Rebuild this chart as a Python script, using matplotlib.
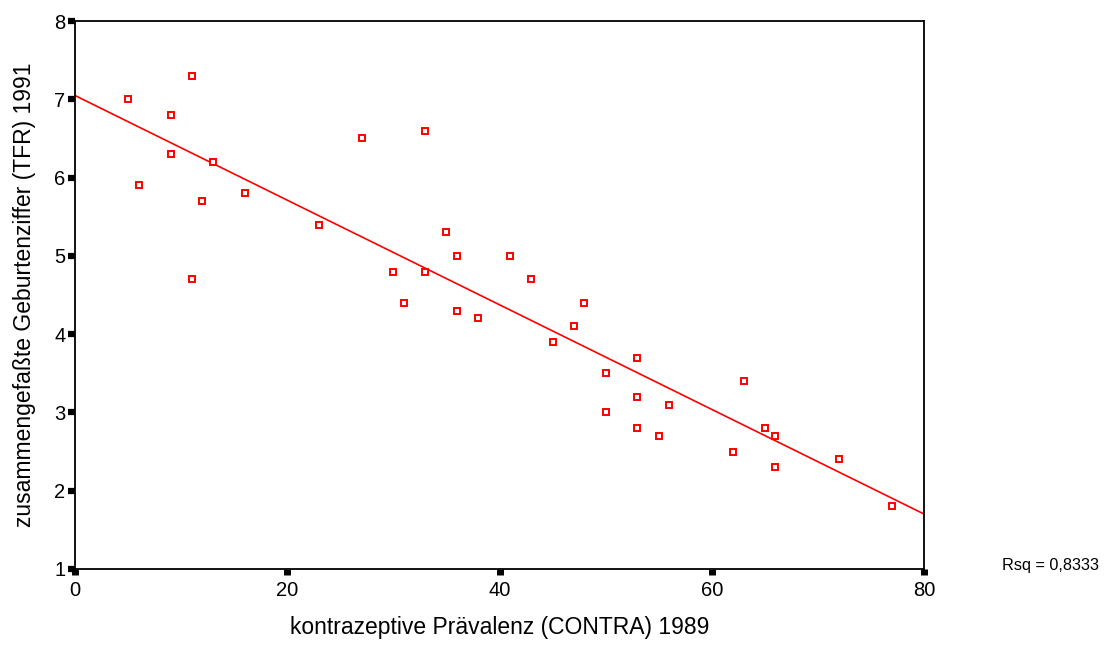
import numpy as np
import matplotlib
matplotlib.use("Agg")
import matplotlib.pyplot as plt

plt.rcParams['font.family'] = ['Liberation Sans', 'DejaVu Sans']

# kontrazeptive Prävalenz 1989 (x) und TFR 1991 (y)
contra = [5, 6, 9, 9, 11, 11, 12, 13, 16, 23, 27, 30, 31, 33, 33, 35, 36, 36, 38,
          41, 43, 45, 47, 48, 50, 50, 53, 53, 53, 55, 56, 62, 63, 65, 66, 66, 72, 77]
tfr = [7.0, 5.9, 6.8, 6.3, 7.3, 4.7, 5.7, 6.2, 5.8, 5.4, 6.5, 4.8, 4.4, 6.6, 4.8, 5.3, 5.0, 4.3, 4.2,
       5.0, 4.7, 3.9, 4.1, 4.4, 3.5, 3.0, 3.7, 3.2, 2.8, 2.7, 3.1, 2.5, 3.4, 2.8, 2.7, 2.3, 2.4, 1.8]

x_ticks = [0, 20, 40, 60, 80]
y_ticks = [1, 2, 3, 4, 5, 6, 7, 8]

fig = plt.figure(figsize=(11.11, 6.58), dpi=100)
ax = fig.add_axes([0.0675, 0.1353, 0.7642, 0.8327])

# lineare Regression
slope, intercept = np.polyfit(contra, tfr, 1)
xs = np.array([0, 80])
ax.plot(xs, intercept + slope * xs, color='#ff0000', lw=1.2, zorder=2)

ax.plot(contra, tfr, linestyle='none', marker='s', markersize=4.5,
        markerfacecolor='white', markeredgecolor='#ff0000', markeredgewidth=1.4, zorder=3)

ax.set_xlim(0, 80)
ax.set_ylim(1, 8)
ax.set_xticks(x_ticks)
ax.set_yticks(y_ticks)
for s in ax.spines.values():
    s.set_linewidth(1.3)
    s.set_color('black')

ax.tick_params(axis='y', direction='out', length=5, width=4.5, pad=2, labelsize=14.5)
ax.tick_params(axis='x', direction='out', length=4, width=5, pad=5, labelsize=14.5)

ax.set_xlabel('kontrazeptive Prävalenz (CONTRA) 1989', fontsize=16.5)
ax.set_ylabel('zusammengefaßte Geburtenziffer (TFR) 1991', fontsize=16.5)
ax.xaxis.set_label_coords(0.5, -0.086)
ax.yaxis.set_label_coords(-0.046, 0.5)

fig.text(0.902, 0.141, 'Rsq = 0,8333', fontsize=11.7, va='center', ha='left')

fig.savefig('out.png', dpi=100)
